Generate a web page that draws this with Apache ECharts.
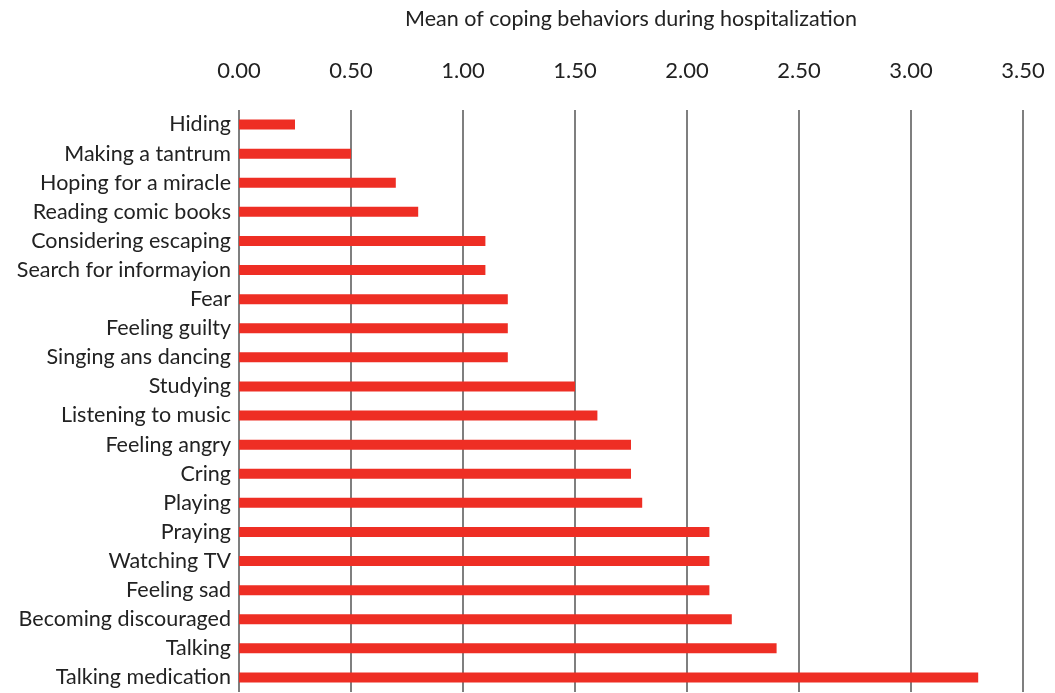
<!DOCTYPE html>
<html>
<head>
<meta charset="utf-8">
<script src="https://cdn.jsdelivr.net/npm/echarts@6/dist/echarts.min.js"></script>
<style>
  html, body { margin: 0; padding: 0; background: #fff; }
  #chart { width: 1055px; height: 693px; }
</style>
</head>
<body>
<div id="chart"></div>
<script>
// categories, top to bottom
const categories = [
  'Hiding', 'Making a tantrum', 'Hoping for a miracle', 'Reading comic books',
  'Considering escaping', 'Search for informayion', 'Fear', 'Feeling guilty',
  'Singing ans dancing', 'Studying', 'Listening to music', 'Feeling angry',
  'Cring', 'Playing', 'Praying', 'Watching TV', 'Feeling sad',
  'Becoming discouraged', 'Talking', 'Talking medication'
];
const means = [
  0.25, 0.50, 0.70, 0.80, 1.10, 1.10, 1.20, 1.20, 1.20, 1.50,
  1.60, 1.75, 1.75, 1.80, 2.10, 2.10, 2.10, 2.20, 2.40, 3.30
];
const axisTitle = 'Mean of coping behaviors during hospitalization';

const font = 'Lato, "Open Sans", sans-serif';
const chart = echarts.init(document.getElementById('chart'));

chart.setOption({
  animation: false,
  grid: {
    left: 239, right: 32, top: 110, bottom: 1,
    containLabel: false,
    outerBoundsMode: 'none'
  },
  xAxis: {
    type: 'value',
    position: 'top',
    min: 0,
    max: 3.5,
    interval: 0.5,
    name: axisTitle,
    nameLocation: 'middle',
    nameGap: 80,
    nameTextStyle: { fontFamily: font, fontSize: 21.5, color: '#222' },
    axisLine: { show: false },
    axisTick: { show: false },
    axisLabel: {
      margin: 28,
      fontFamily: font,
      fontSize: 22,
      color: '#222',
      formatter: v => v.toFixed(2)
    },
    splitLine: { show: true, lineStyle: { color: '#555', width: 1.5 } }
  },
  yAxis: {
    type: 'category',
    data: categories,
    inverse: true,
    axisLine: { show: false },
    axisTick: { show: false },
    axisLabel: { margin: 8, fontFamily: font, fontSize: 21.5, color: '#222' }
  },
  series: [{
    type: 'bar',
    data: means,
    barWidth: 10,
    itemStyle: { color: '#ee2e24' }
  }]
});
</script>
</body>
</html>
